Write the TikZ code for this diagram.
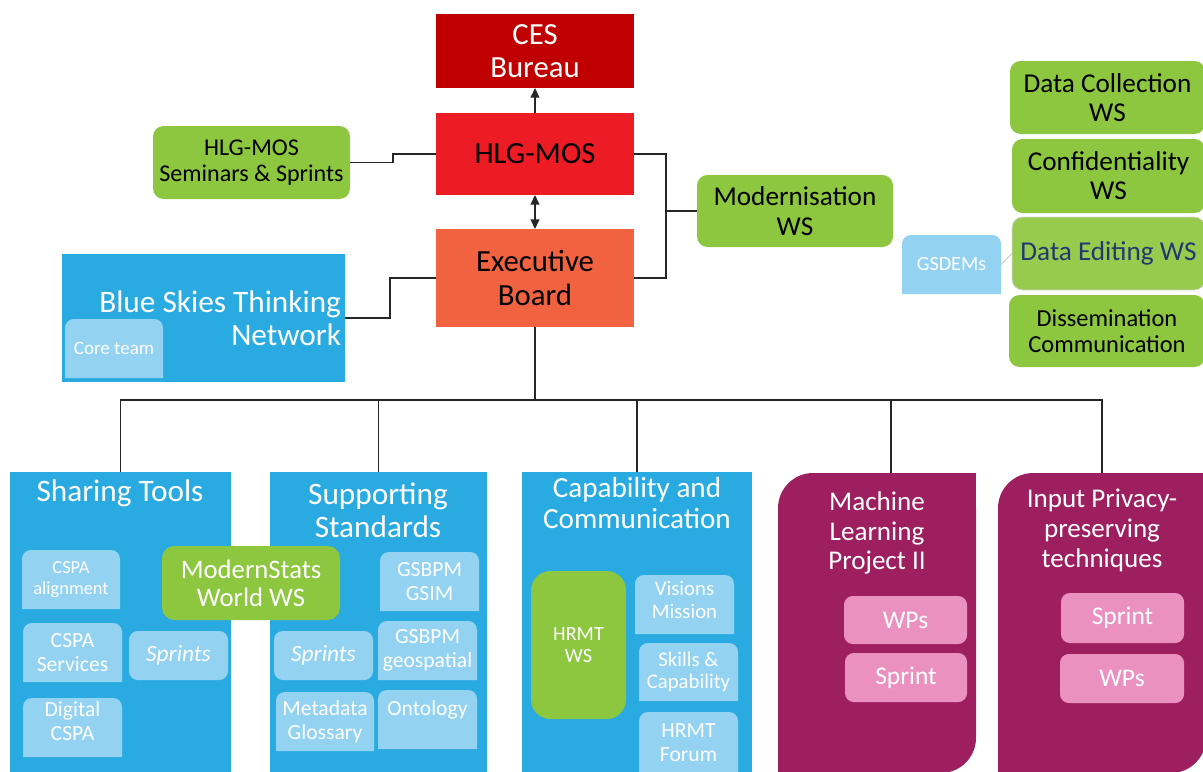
\documentclass[tikz,border=0pt]{standalone}
\usepackage{fontspec}
\setmainfont{Carlito}
\usetikzlibrary{arrows.meta}

\definecolor{cesred}{HTML}{C00000}
\definecolor{hlgred}{HTML}{ED1C24}
\definecolor{exorange}{HTML}{F06240}
\definecolor{wsgreen}{HTML}{8DC63F}
\definecolor{skyblue}{HTML}{29ABE2}
\definecolor{paleblue}{HTML}{93D3F1}
\definecolor{plum}{HTML}{9E1F5F}
\definecolor{rose}{HTML}{EA91C0}
\definecolor{navy}{HTML}{1F3A70}

\tikzset{
  every node/.style={inner sep=0pt, outer sep=0pt, align=center},
  wh/.style args={#1/#2}{minimum width=#1*0.02cm, minimum height=#2*0.02cm, anchor=north west},
  conn/.style={line width=0.8pt, black!85, >={Triangle[length=5.5pt, width=5pt]}},
  head/.style={font=\fontsize{17.5}{19}\selectfont},
  ttl/.style={text=white, font=\fontsize{17.8}{18.8}\selectfont},
  ttlmid/.style={text=white, font=\fontsize{16.6}{18}\selectfont},
  ttlsm/.style={text=white, font=\fontsize{15.4}{17}\selectfont},
  ws/.style={fill=wsgreen, rounded corners=6pt, font=\fontsize{15.5}{16.5}\selectfont},
  tab/.style={fill=#1, text=white, font=\fontsize{12.3}{13.6}\selectfont,
    path picture={\fill[paleblue, rounded corners=5pt]
      (path picture bounding box.south west) -- (path picture bounding box.north west)
      -- (path picture bounding box.north east) -- (path picture bounding box.south east);}},
  tab/.default=skyblue,
  sprint/.style={fill=paleblue, rounded corners=5pt, text=white, font=\fontsize{13.3}{15}\selectfont\itshape},
  pink/.style={fill=rose, rounded corners=5pt, text=white, font=\fontsize{14.5}{16}\selectfont},
  plumbox/.style={fill=white,
    path picture={\fill[plum, rounded corners=20pt]
      (path picture bounding box.north west) rectangle (path picture bounding box.south east);
      \fill[plum] (path picture bounding box.south west) rectangle ++(25pt,25pt);
      \fill[plum] (path picture bounding box.north east) rectangle ++(-25pt,-25pt);}},
}

\begin{document}
\begin{tikzpicture}[x=0.02cm, y=-0.02cm]
\useasboundingbox (0,0) rectangle (1203,771);
\clip (0,0) rectangle (1203,771);

% governance chain
\node[head, fill=cesred, text=white, wh=198/74] (ces) at (436,14) {CES\\Bureau};
\node[head, fill=hlgred, wh=198/82] (hlg) at (436,113) {HLG-MOS};
\node[head, fill=exorange, wh=198/98] (exb) at (436,229) {Executive\\Board};

\node[ws, wh=197/73, font=\fontsize{13.7}{14.4}\selectfont] (sem) at (153,126) {HLG-MOS\\Seminars \& Sprints};
\node[ws, wh=196/72, font=\fontsize{15.5}{17}\selectfont] (mod) at (697,175) {Modernisation\\WS};

% blue skies
\node[fill=skyblue, wh=283/128] (bst) at (62,254) {};
\node[tab, wh=98/59, font=\fontsize{10.8}{12}\selectfont] (core) at (65,319) {Core team};
\node[ttl, align=right, anchor=east] (bsttxt) at (341,318) {Blue Skies Thinking\\Network};

% workshops on the right
\node[ws, wh=195/73] (dcol) at (1010,61) {Data Collection\\WS};
\node[ws, wh=193/74] (conf) at (1012,139) {Confidentiality\\WS};
\node[ws, wh=193/73, fill=wsgreen!92!white, draw=black!15, text=navy] (dedit) at (1012,217) {Data Editing WS};
\node[ws, wh=196/72, font=\fontsize{13.9}{15}\selectfont] (diss) at (1009,295) {Dissemination\\Communication};
\node[tab=white, wh=99/59, font=\fontsize{11.5}{13}\selectfont] (gsd) at (902,235) {GSDEMs};

% groups
\node[fill=skyblue, wh=221/310] (shr) at (10,472) {};
\node[ttl] (shrttl) at (120,493) {Sharing Tools};
\node[tab, wh=98/59, font=\fontsize{10.5}{11.8}\selectfont] (csal) at (22,550) {CSPA\\alignment};
\node[tab, wh=99/59] (cssv) at (23,623) {CSPA\\Services};
\node[tab, wh=99/59] (dcspa) at (23,698) {Digital\\CSPA\\[-6pt]~};
\node[sprint, wh=99/49] (spr1) at (129,631) {Sprints};

\node[fill=skyblue, wh=217/310] (sup) at (270,472) {};
\node[ttl] (supttl) at (378,510) {Supporting\\Standards};
\node[tab, wh=99/59] (gsim) at (380,552) {GSBPM\\GSIM};
\node[tab, wh=99/59] (geo) at (378,621) {GSBPM\\geospatial};
\node[sprint, wh=99/49] (spr2) at (274,631) {Sprints};
\node[tab, wh=98/59] (meta) at (276,692) {Metadata\\Glossary};
\node[tab, wh=99/59] (onto) at (378,690) {Ontology\\~};

\node[ws, text=white, rounded corners=7pt, font=\fontsize{15.2}{16}\selectfont, wh=178/74] (mstats) at (162,546) {ModernStats\\World WS};

\node[fill=skyblue, wh=230/310] (cap) at (522,472) {};
\node[ttlmid] (capttl) at (637,503) {Capability and\\Communication};
\node[ws, text=white, rounded corners=11pt, font=\fontsize{11.5}{12.5}\selectfont, wh=95/148] (hrmt) at (531,571) {HRMT\\WS};
\node[tab, wh=99/59, font=\fontsize{11.8}{13}\selectfont] (vis) at (635,575) {Visions\\Mission\\[-8pt]~};
\node[tab, wh=99/58, font=\fontsize{11.8}{13}\selectfont] (skl) at (639,643) {Skills \&\\Capability};
\node[tab, wh=99/62] (hfor) at (639,712) {HRMT\\Forum};

\node[plumbox, wh=198/300] (ml) at (778,473) {};
\node[ttlsm] (mlttl) at (877,533) {Machine\\Learning\\Project II};
\node[pink, wh=123/48] (wp1) at (844,596) {WPs};
\node[pink, wh=122/49] (spt1) at (845,653) {Sprint};

\node[plumbox, wh=208/300] (ipp) at (998,473) {};
\node[ttlsm] (ippttl) at (1102,530) {Input Privacy-\\preserving\\techniques};
\node[pink, wh=123/50] (spt2) at (1061,593) {Sprint};
\node[pink, wh=124/49] (wp2) at (1060,654) {WPs};

% connectors
\draw[conn, ->] (hlg.north) -- (ces.south);
\draw[conn, <->] (hlg.south) -- (exb.north);

\coordinate (sjog) at (393,160);
\draw[conn] (sem.east) -| (sjog) |- (hlg.west);
\coordinate (bjog) at (390,300);
\draw[conn] (bst.east) -| (bjog) |- (exb.west);

\coordinate (rjog) at (666,211);
\draw[conn] (hlg.east) -| (rjog) |- (exb.east);
\draw[conn] (rjog) -- (mod.west);
\draw[black!25] (gsd.east) -- (dedit.west);

\coordinate (bus) at (535,400);
\draw[conn] (exb.south) -- (bus);
\foreach \b in {shr,sup,cap,ipp}
  \draw[conn] (\b.north) |- (bus);
\draw[conn] ([xshift=14*0.02cm]ml.north) |- (bus);
\end{tikzpicture}
\end{document}
